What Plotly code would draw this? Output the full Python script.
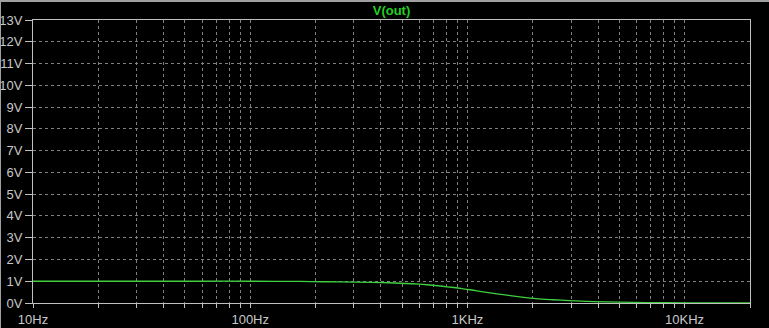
import plotly.graph_objects as go

# Data (frequency in Hz, V(out) magnitude in volts)
freq_hz = [10, 30, 60, 100, 170, 216, 307, 436, 556, 652, 732, 805, 886, 954,
           1028, 1107, 1180, 1270, 1368, 1489, 1604, 1745, 1900, 2113, 2477,
           2938, 3785, 5000, 6714, 10000, 20000]
vout_v = [1.0, 1.0, 1.0, 1.0, 0.99, 0.977, 0.955, 0.931, 0.884, 0.838, 0.792,
          0.745, 0.70, 0.653, 0.608, 0.562, 0.515, 0.468, 0.423, 0.377, 0.331,
          0.284, 0.238, 0.192, 0.15, 0.108, 0.062, 0.04, 0.02, 0.01, 0.004]

y_ticks = list(range(0, 14))
y_labels = [f"{v}V" for v in y_ticks]

decade_labels = {10: "10Hz", 100: "100Hz", 1000: "1KHz", 10000: "10KHz"}
x_ticks = []
x_labels = []
for dec in [10, 100, 1000, 10000]:
    for m in range(1, 10):
        v = dec * m
        if v > 20000:
            break
        x_ticks.append(v)
        x_labels.append(decade_labels.get(v, "") if m == 1 else "")

W, H = 769, 328
L, R, T, B = 33, 19, 20, 25
ph = H - T - B
pw = W - L - R

GRID = "#808080"
AXIS = "#c0c0c0"
TEXT = "#c8c8c8"
FONT = "Liberation Sans"

fig = go.Figure()
fig.add_trace(go.Scatter(
    x=freq_hz, y=vout_v, mode="lines",
    line=dict(color="#3fcf3f", width=1.3, shape="spline", smoothing=0.6),
    hoverinfo="skip", showlegend=False,
))

fig.update_layout(
    width=W, height=H,
    margin=dict(l=L, r=R, t=T, b=B, pad=0, autoexpand=False),
    paper_bgcolor="#000000", plot_bgcolor="#000000",
    font=dict(family=FONT, size=13, color=TEXT),
    title=dict(text="V(out)", x=(L + pw / 2) / W, xanchor="center",
               y=1 - 10 / H, yanchor="middle", yref="container",
               font=dict(family=FONT, size=13, color="#22d022", weight="bold"),
               automargin=False),
    showlegend=False,
    xaxis=dict(
        type="log", range=[1, 4.30103], tickmode="array",
        tickvals=x_ticks, ticktext=x_labels, automargin=False,
        showgrid=True, gridcolor=GRID, griddash="3px,3px", gridwidth=1,
        showline=True, linecolor=AXIS, linewidth=1, mirror=True,
        ticks="outside", ticklen=4, tickcolor=AXIS, tickwidth=1,
        zeroline=False, tickfont=dict(family=FONT, size=13, color=TEXT),
    ),
    yaxis=dict(
        range=[0, 13], tickmode="array", tickvals=y_ticks, ticktext=y_labels,
        automargin=False,
        showgrid=True, gridcolor=GRID, griddash="3px,3px", gridwidth=1,
        showline=True, linecolor=AXIS, linewidth=1, mirror=True,
        ticks="outside", ticklen=7, tickcolor=AXIS, tickwidth=1,
        zeroline=False, tickfont=dict(family=FONT, size=13, color=TEXT),
        ticklabelstandoff=0,
    ),
)

# window frame: grey band at top and thin grey line at left edge
fig.add_shape(type="rect", xref="paper", yref="paper",
              x0=-L / pw, x1=1 + R / pw, y0=1 + (T - 2) / ph, y1=1 + T / ph,
              fillcolor="#a0a0a0", line=dict(width=0), layer="above")
fig.add_shape(type="rect", xref="paper", yref="paper",
              x0=-L / pw, x1=-(L - 1) / pw, y0=-B / ph, y1=1 + T / ph,
              fillcolor="#a0a0a0", line=dict(width=0), layer="above")

fig.write_html("out.html")
